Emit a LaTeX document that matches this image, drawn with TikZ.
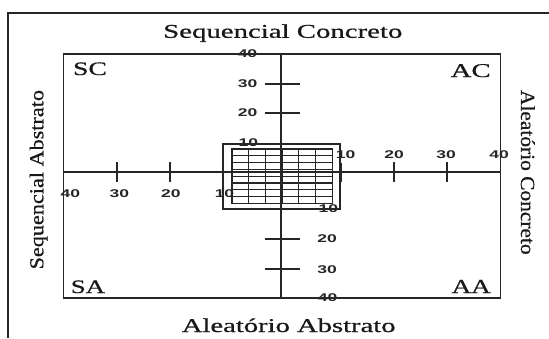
\documentclass[tikz,border=0pt]{standalone}
\usepackage{fontspec}
\setmainfont{Liberation Serif}
\setsansfont{Liberation Sans}
\newfontfamily\hserif{Liberation Serif}[BoldFont={Liberation Serif},BoldFeatures={FakeBold=0.6}]
\usepackage{graphicx}
\newcommand{\stxt}[3]{\scalebox{#1}[#2]{\fontsize{10}{12}\selectfont\hserif\bfseries #3}}
\newcommand{\snum}[1]{\scalebox{1.75}[1.12]{\fontsize{10}{12}\selectfont\sffamily\bfseries #1}}
\begin{document}
\begin{tikzpicture}[x=1pt,y=-1pt,
  lbl/.style={inner sep=0pt,anchor=base,text=black!90},
  num/.style={inner sep=0pt,anchor=center,text=black!85},
  frame/.style={line width=1.8pt,draw=black!85},
  axisline/.style={line width=1.4pt,draw=black!85},
  gridline/.style={line width=1.2pt,draw=black!85}]
\useasboundingbox (0,0) rectangle (549,338);
\fill[white] (0,0) rectangle (549,338);
% outer frame
\coordinate (fb) at (7.5,338);
\coordinate (ftl) at (7.5,12.5);
\coordinate (fr) at (549,12.5);
\draw[frame,line width=2pt] (fb) -- (ftl) -- (fr);
% titles
\node[lbl] (tC) at (282.8,37.8) {\stxt{2.88}{1.95}{Sequencial Concreto}};
\node[lbl] (tA) at (288.7,332) {\stxt{2.86}{1.95}{Aleatório Abstrato}};
\node[lbl,rotate=90] (tL) at (43.3,179.7) {\stxt{2.22}{1.98}{Sequencial Abstrato}};
\node[lbl,rotate=-90] (tR) at (521,172.3) {\stxt{2.14}{2}{Aleatório Concreto}};
% corner labels
\node[lbl] (SC) at (90,75) {\stxt{2.78}{1.9}{SC}};
\node[lbl] (AC) at (470.7,77) {\stxt{2.88}{1.95}{AC}};
\node[lbl] (SA) at (87.9,293) {\stxt{2.68}{1.9}{SA}};
\node[lbl] (AA) at (471.2,293) {\stxt{2.7}{1.98}{AA}};
% numbers, horizontal axis
\node[num] (hl40) at (70.3,193.3) {\snum{40}};
\node[num] (hl30) at (119.3,193.3) {\snum{30}};
\node[num] (hl20) at (170.8,193.3) {\snum{20}};
\node[num] (hl10) at (224.5,193.3) {\snum{10}};
\node[num] (hr10) at (345.5,155) {\snum{10}};
\node[num] (hr20) at (394.2,155) {\snum{20}};
\node[num] (hr30) at (446.2,155) {\snum{30}};
\node[num] (hr40) at (499.2,155) {\snum{40}};
% numbers, vertical axis
\node[num] (vu40) at (247.5,54) {\snum{40}};
\node[num] (vu30) at (247.7,84) {\snum{30}};
\node[num] (vu20) at (247.7,112.7) {\snum{20}};
\node[num] (vu10) at (248.3,142.5) {\snum{10}};
\node[num] (vd10) at (328.3,208.3) {\snum{10}};
\node[num] (vd20) at (327.2,239) {\snum{20}};
\node[num] (vd30) at (327.2,269.3) {\snum{30}};
\node[num] (vd40) at (327.5,297.3) {\snum{40}};
% main rectangle
\coordinate (R1) at (63.5,54);
\coordinate (R2) at (500.5,298);
\draw[frame] (R1) rectangle (R2);
% axes
\coordinate (axL) at (63.5,172);
\coordinate (axR) at (500.5,172);
\coordinate (axT) at (281,54);
\coordinate (axB) at (281,298);
\draw[axisline] (axL) -- (axR);
\draw[axisline] (axT) -- (axB);
% horizontal ticks
\foreach \x in {117,170,223,394,447}{
  \draw[axisline] (\x,162) -- (\x,182);
}
\draw[axisline,line width=2.8pt] (340.5,162.5) -- (340.5,182);
% vertical ticks
\foreach \y in {84,113,239,269}{
  \draw[axisline] (264.5,\y) -- (299.5,\y);
}
% square box
\coordinate (B1) at (223,144);
\coordinate (B2) at (340,209);
\draw[frame] (B1) rectangle (B2);
% grid box
\coordinate (G1) at (231.7,149);
\coordinate (G2) at (332.3,203.3);
\draw[gridline,line width=1.6pt] (G1) rectangle (G2);
\foreach \i in {1,...,5}{
  \draw[gridline] ({231.7+\i*100.6/6},149) -- ({231.7+\i*100.6/6},203.3);
}
\foreach \j in {1,...,7}{
  \draw[gridline] (231.7,{149+\j*54.3/8}) -- (332.3,{149+\j*54.3/8});
}
\end{tikzpicture}
\end{document}
